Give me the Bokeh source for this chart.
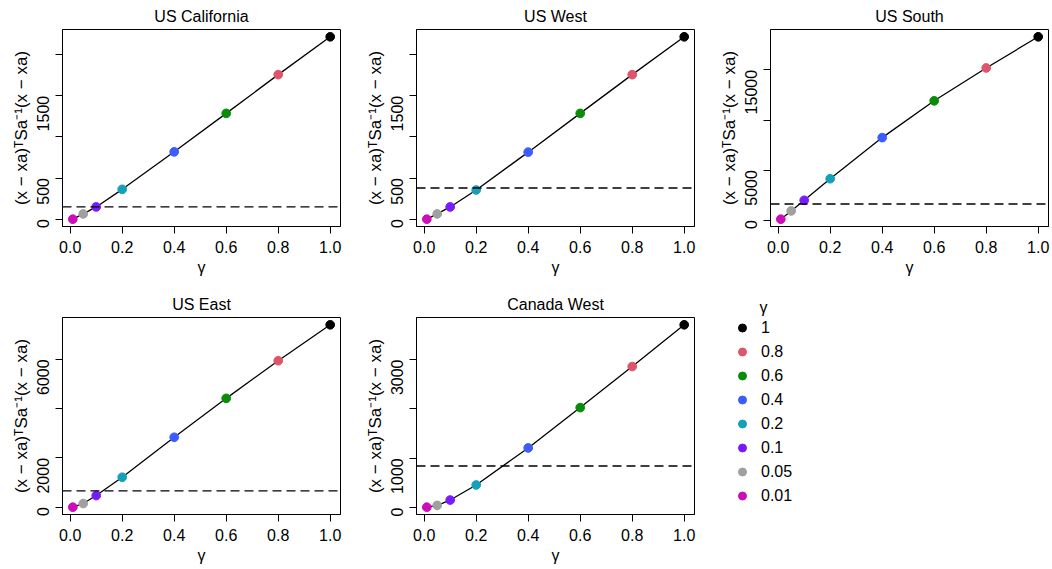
import math
from bokeh.plotting import figure
from bokeh.models import Range1d, FixedTicker, Span, Legend, LegendItem, ColumnDataSource
from bokeh.layouts import row, column
from bokeh.embed import file_html
from bokeh.resources import INLINE

# ---- data ----
gammas = [0.01, 0.05, 0.1, 0.2, 0.4, 0.6, 0.8, 1.0]
gamma_labels = ["0.01", "0.05", "0.1", "0.2", "0.4", "0.6", "0.8", "1"]
gamma_colors = ["#CC0DBA", "#A0A0A0", "#7A1BFF", "#13A1B9", "#3B5CFF", "#0A8C0A", "#DF536B", "#000000"]

regions = ["US California", "US West", "US South", "US East", "Canada West"]
us_california = [0, 64, 149, 363, 819, 1286, 1757, 2217]
us_west = [0, 64, 149, 355, 815, 1286, 1757, 2217]
us_south = [100, 927, 1986, 4139, 8243, 11917, 15195, 18305]
us_east = [0, 149, 473, 1216, 2838, 4419, 5946, 7405]
canada_west = [10, 47, 155, 460, 1210, 2027, 2858, 3703]
thresholds = [150, 379, 1622, 662, 845]

y_ticks = [
    [0, 500, 1000, 1500, 2000],
    [0, 500, 1000, 1500, 2000],
    [0, 5000, 10000, 15000],
    [0, 2000, 4000, 6000],
    [0, 1000, 2000, 3000],
]
y_hidden = [[1000, 2000], [1000, 2000], [10000], [4000], [2000]]
x_ticks = [0.0, 0.2, 0.4, 0.6, 0.8, 1.0]
x_tick_labels = ["0.0", "0.2", "0.4", "0.6", "0.8", "1.0"]

series = [us_california, us_west, us_south, us_east, canada_west]

FONT = "Liberation Sans"
YLABEL = "(x \u2212 xa)\u1d40Sa\u207b\u00b9(x \u2212 xa)"


def pad_range(vals):
    lo, hi = min(vals), max(vals)
    d = (hi - lo) * 0.04
    return Range1d(lo - d, hi + d)


def make_panel(i, width, height, border_right, border_bottom):
    yv = series[i]
    p = figure(width=width, height=height, output_backend="svg", toolbar_location=None,
               min_border_left=62, min_border_right=border_right,
               min_border_top=29, min_border_bottom=border_bottom,
               x_range=pad_range(gammas), y_range=pad_range(yv))
    p.title.text = regions[i]
    p.title.align = "center"
    p.title.text_font = FONT
    p.title.text_font_size = "16px"
    p.title.text_font_style = "normal"
    p.title.text_color = "black"
    p.title.standoff = 10
    p.xgrid.visible = False
    p.ygrid.visible = False
    p.outline_line_color = "black"
    p.outline_line_width = 1
    p.outline_line_alpha = 1

    for ax in (p.xaxis[0], p.yaxis[0]):
        ax.axis_line_color = "black"
        ax.major_tick_line_color = "black"
        ax.major_tick_out = 7
        ax.major_tick_in = 0
        ax.minor_tick_line_color = None
        ax.major_label_text_font = FONT
        ax.major_label_text_font_size = "16px"
        ax.major_label_text_color = "black"
        ax.axis_label_text_font = FONT
        ax.axis_label_text_font_size = "16px"
        ax.axis_label_text_font_style = "normal"
        ax.axis_label_text_color = "black"

    p.xaxis.ticker = FixedTicker(ticks=x_ticks)
    p.xaxis.major_label_overrides = {t: s for t, s in zip(x_ticks, x_tick_labels)}
    p.xaxis.major_label_standoff = 7
    p.xaxis.axis_label = "\u03b3"
    p.xaxis.axis_label_standoff = 3

    p.yaxis.ticker = FixedTicker(ticks=y_ticks[i])
    p.yaxis.major_label_overrides = {t: ("" if t in y_hidden[i] else str(t)) for t in y_ticks[i]}
    p.yaxis.major_label_orientation = math.pi / 2
    p.yaxis.major_label_standoff = 12
    p.yaxis.axis_label = YLABEL
    p.yaxis.axis_label_text_font_size = "17px"
    p.yaxis.axis_label_standoff = -2

    p.add_layout(Span(location=thresholds[i], dimension="width", line_color="black",
                      line_width=1.4, line_dash="9 5"))
    p.line(gammas, yv, line_color="black", line_width=1.3)
    src = ColumnDataSource(dict(x=gammas, y=yv, c=gamma_colors))
    p.scatter("x", "y", source=src, size=8.7, fill_color="c", line_color="c", marker="circle")
    return p


p1 = make_panel(0, 354, 288, 14, 62)
p2 = make_panel(1, 354, 288, 14, 62)
p3 = make_panel(2, 344, 288, 4, 62)
p4 = make_panel(3, 354, 281, 14, 55)
p5 = make_panel(4, 354, 281, 14, 55)

# legend panel
p6 = figure(width=344, height=281, output_backend="svg", toolbar_location=None,
            min_border_left=24, min_border_right=0, min_border_top=25, min_border_bottom=0,
            x_range=Range1d(0, 1), y_range=Range1d(0, 1))
p6.axis.visible = False
p6.grid.visible = False
p6.outline_line_color = None
p6.title.text = "\u03b3"
p6.title.align = "left"
p6.title.offset = 27
p6.title.text_font = FONT
p6.title.text_font_size = "16px"
p6.title.text_font_style = "normal"
p6.title.text_color = "black"
p6.title.standoff = 4

items = []
for lab, col in reversed(list(zip(gamma_labels, gamma_colors))):
    r = p6.scatter(x=[float("nan")], y=[float("nan")], size=8, fill_color=col,
                   line_color=col, marker="circle")
    items.append(LegendItem(label=lab, renderers=[r]))
legend = Legend(items=items, location="top_left")
legend.margin = 0
legend.padding = 0
legend.border_line_color = None
legend.background_fill_alpha = 0
legend.label_text_font = FONT
legend.label_text_font_size = "16px"
legend.label_text_color = "black"
legend.label_height = 21
legend.glyph_height = 21
legend.glyph_width = 20
legend.spacing = 3
legend.label_standoff = 9
p6.add_layout(legend, "center")

layout = column(row(p1, p2, p3), row(p4, p5, p6))
open("out.html", "w").write(file_html(layout, INLINE))
